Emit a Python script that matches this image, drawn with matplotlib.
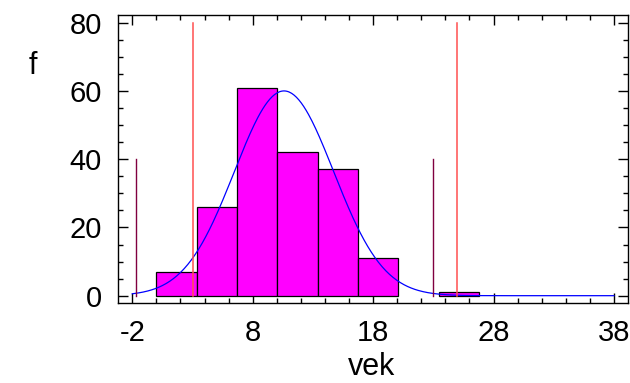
import numpy as np
import matplotlib
matplotlib.use("Agg")
import matplotlib.pyplot as plt
from matplotlib.ticker import MultipleLocator

plt.rcParams['font.family'] = ['Liberation Sans', 'DejaVu Sans']
plt.rcParams['axes.unicode_minus'] = False

# histogram of vek
bin_left = [0.0, 3.35, 6.7, 10.05, 13.4, 16.75, 23.45]
bin_width = 3.35
counts = [7, 26, 61, 42, 37, 11, 1]

# fitted normal curve
mean_vek = 10.6
sd_vek = 4.12
n_total = 185

# spec limits (red) and +-3 sigma (dark red)
spec_x = [3.05, 25.0]
spec_h = 80
sigma_x = [-1.73, 23.0]
sigma_h = 40

xticks = [-2, 8, 18, 28, 38]
yticks = [0, 20, 40, 60, 80]

fig = plt.figure(figsize=(6.3, 3.83), dpi=100)
ax = fig.add_axes([0.1878, 0.2081, 0.8085, 0.7527])

ax.bar(bin_left, counts, width=bin_width, align='edge',
       color='#ff00ff', edgecolor='black', linewidth=0.9, zorder=2)

xs = np.linspace(-2, 38, 400)
ys = n_total * bin_width / (sd_vek * np.sqrt(2 * np.pi)) * np.exp(-0.5 * ((xs - mean_vek) / sd_vek) ** 2)
ax.plot(xs, ys, color='#0000ff', linewidth=0.9, zorder=3)

for x in spec_x:
    ax.plot([x, x], [0, spec_h], color='#ff5050', linewidth=1.1, zorder=4)
for x in sigma_x:
    ax.plot([x, x], [0, sigma_h], color='#800040', linewidth=1.0, zorder=4)

ax.set_xlim(-3.16, 39.14)
ax.set_ylim(-2.23, 82.26)
ax.set_xticks(xticks)
ax.set_yticks(yticks)
ax.xaxis.set_minor_locator(MultipleLocator(2))
ax.yaxis.set_minor_locator(MultipleLocator(5))
ax.tick_params(which='both', direction='in', top=True, right=True, width=1.0)
ax.tick_params(which='major', length=7.5, labelsize=21)
ax.tick_params(axis='x', which='major', pad=11)
ax.tick_params(axis='y', which='major', pad=12)
ax.tick_params(which='minor', length=3.8)
for s in ax.spines.values():
    s.set_linewidth(1.0)

fig.text(372 / 630, 1 - 375 / 383, 'vek', fontsize=22, ha='center', va='baseline')
fig.text(33 / 630, 1 - 66 / 383, 'f', fontsize=22, ha='center', va='center')

fig.savefig('out.png', dpi=100)
